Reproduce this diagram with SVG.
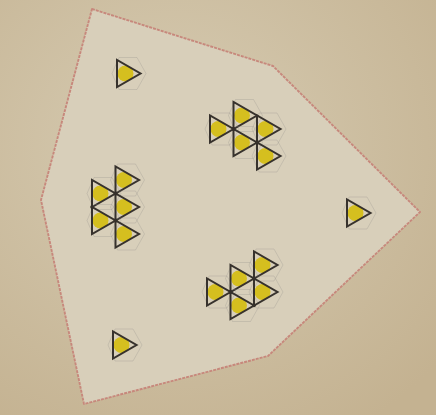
<svg xmlns="http://www.w3.org/2000/svg" xmlns:xlink="http://www.w3.org/1999/xlink" width="436" height="415" viewBox="0 0 436 415">
  <style>
    .edge { fill: #d8cfba; stroke: #c7887c; stroke-width: 1.9; stroke-dasharray: 3 1; stroke-linejoin: round; }
    .tri { fill: none; stroke: #37322d; stroke-width: 2; stroke-linejoin: miter; }
    .dot { fill: #d5bf1f; }
    .hex { fill: none; stroke: #8f8a86; stroke-width: 0.6; opacity: 0.45; }
    .jn { fill: #35302b; }
  </style>
  <defs>
    <radialGradient id="paper" cx="0.4" cy="0.35" r="0.8">
      <stop offset="0" stop-color="#d6cbb2"/>
      <stop offset="1" stop-color="#c4b291"/>
    </radialGradient>
    <g id="tri">
      <path class="hex" d="M-5,0 L2,-16 L20,-16 L29,0 L20,16 L2,16 Z"/>
      <circle class="dot" cx="8.5" cy="0" r="8"/>
      <path class="tri" d="M0,-13.5 L0,13.5 L23.5,0 Z"/>
    </g>
  </defs>

  <rect width="436" height="415" fill="url(#paper)"/>

  <g id="outline">
    <path class="edge" d="M92,9 L273,66 L420,212 L268,356 L84,404 L41,200 Z"/>
  </g>

  <g id="single-top"><use xlink:href="#tri" transform="translate(117,73.5)"/></g>
  <g id="single-right"><use xlink:href="#tri" transform="translate(347,213)"/></g>
  <g id="single-bottom"><use xlink:href="#tri" transform="translate(113,345)"/></g>

  <g id="cluster-top">
    <use xlink:href="#tri" transform="translate(210,129)"/>
    <use xlink:href="#tri" transform="translate(233.5,115.5)"/>
    <use xlink:href="#tri" transform="translate(233.5,142.5)"/>
    <use xlink:href="#tri" transform="translate(257,129)"/>
    <use xlink:href="#tri" transform="translate(257,156)"/>
    <circle class="jn" cx="233.5" cy="129" r="2"/>
    <circle class="jn" cx="257" cy="142.5" r="2"/>
  </g>

  <g id="cluster-left">
    <use xlink:href="#tri" transform="translate(92,193.5)"/>
    <use xlink:href="#tri" transform="translate(92,220.5)"/>
    <use xlink:href="#tri" transform="translate(115.5,180)"/>
    <use xlink:href="#tri" transform="translate(115.5,207)"/>
    <use xlink:href="#tri" transform="translate(115.5,234)"/>
    <circle class="jn" cx="115.5" cy="193.5" r="2"/>
    <circle class="jn" cx="115.5" cy="220.5" r="2"/>
    <circle class="jn" cx="92" cy="207" r="1.8"/>
  </g>

  <g id="cluster-bottom">
    <use xlink:href="#tri" transform="translate(207,292)"/>
    <use xlink:href="#tri" transform="translate(230.5,278.5)"/>
    <use xlink:href="#tri" transform="translate(230.5,305.5)"/>
    <use xlink:href="#tri" transform="translate(254,265)"/>
    <use xlink:href="#tri" transform="translate(254,292)"/>
    <circle class="jn" cx="230.5" cy="292" r="2"/>
    <circle class="jn" cx="254" cy="278.5" r="2"/>
    <circle class="jn" cx="254" cy="305.5" r="1.8"/>
  </g>
</svg>
